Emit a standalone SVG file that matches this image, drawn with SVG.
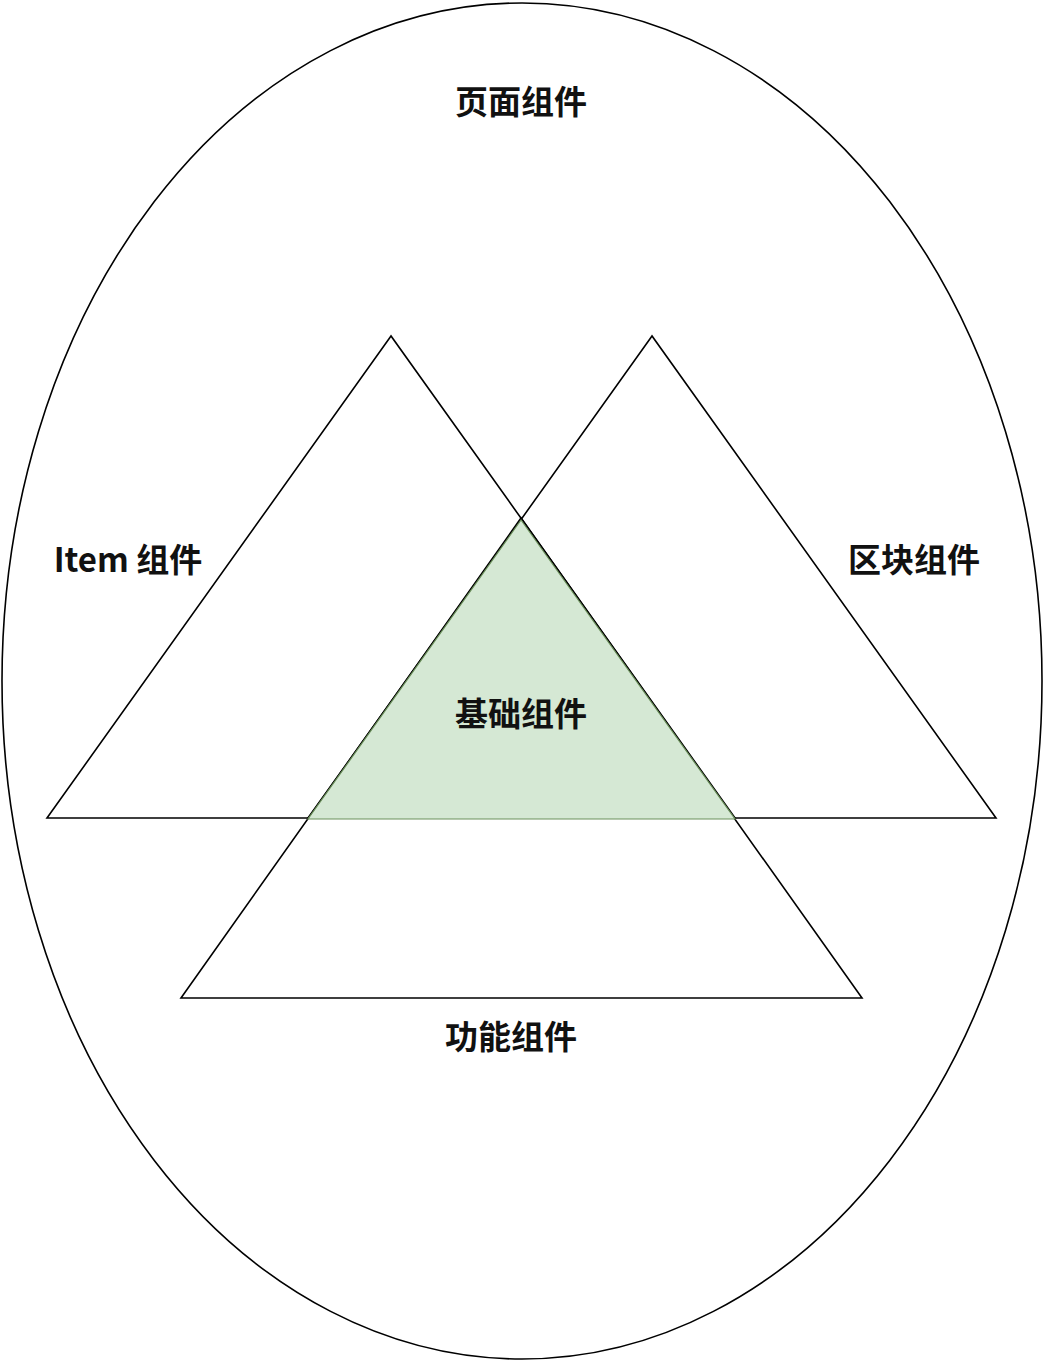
<svg xmlns="http://www.w3.org/2000/svg" width="1044" height="1362" viewBox="0 0 1044 1362">
<style>
.outline{fill:none;stroke:#000;stroke-width:1.6}
.lbl{font-family:"Noto Sans CJK SC","Liberation Sans",sans-serif;font-weight:bold;font-size:33px;fill:#111;text-anchor:middle;dominant-baseline:central}
</style>
<rect width="1044" height="1362" fill="#fff"/>
<g id="page">
<ellipse class="outline" cx="522" cy="681" rx="520" ry="678"/>
<text class="lbl" x="521" y="100">页面组件</text>
</g>
<g id="item">
<polygon class="outline" points="391,336 47,818 735,818"/>
<text class="lbl" x="128" y="558">Item 组件</text>
</g>
<g id="block">
<polygon class="outline" points="652,336 308,818 996,818"/>
<text class="lbl" x="914" y="558">区块组件</text>
</g>
<g id="func">
<polygon class="outline" points="521,518 181,998 862,998"/>
<text class="lbl" x="511" y="1035">功能组件</text>
</g>
<g id="base">
<polygon points="521,520 308,819 735,819" fill="#d5e8d4" stroke="#6a8f5a" stroke-width="1.2"/>
<text class="lbl" x="521" y="712">基础组件</text>
</g>
<g id="connectors"></g>
</svg>
